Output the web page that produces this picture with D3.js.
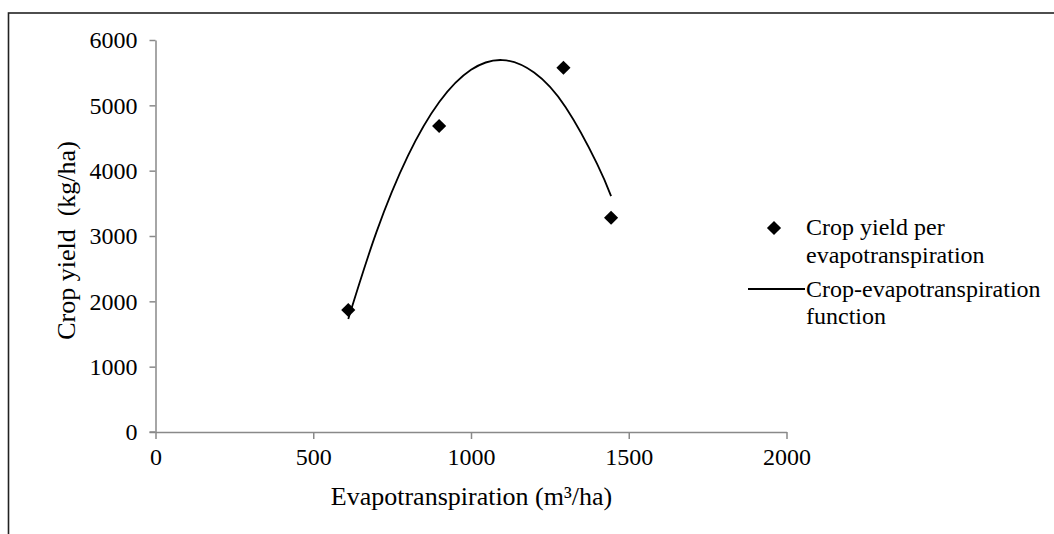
<!DOCTYPE html>
<html>
<head>
<meta charset="utf-8">
<script src="https://cdn.jsdelivr.net/npm/d3@7"></script>
<style>
  html, body { margin: 0; padding: 0; background: #fff; }
  svg { display: block; }
  text { font-family: "Liberation Serif", "Times New Roman", serif; fill: #000; white-space: pre; }
</style>
</head>
<body>
<svg id="chart" width="1054" height="534"></svg>
<script>
// ---- data ----
const pointsX = [611, 899, 1293, 1444];          // evapotranspiration (m³/ha)
const pointsY = [1867, 4684, 5576, 3280];        // crop yield (kg/ha)
// points along the drawn crop-evapotranspiration function curve
const curveX = [611, 700, 800, 900, 1000, 1100, 1200, 1300, 1400, 1444];
const curveY = [1730, 3055, 4225, 5054, 5543, 5693, 5502, 4971, 4101, 3610];
const xTicks = [0, 500, 1000, 1500, 2000];
const yTicks = [0, 1000, 2000, 3000, 4000, 5000, 6000];
const xTitle = "Evapotranspiration (m³/ha)";
const yTitle = "Crop yield  (kg/ha)";
const legendLabels = [["Crop yield per", "evapotranspiration"], ["Crop-evapotranspiration", "function"]];

const svg = d3.select("#chart");
const axisColor = "#898989";

// outer frame
svg.append("rect")
  .attr("x", 8.5).attr("y", 13)
  .attr("width", 1050).attr("height", 540)
  .attr("fill", "none").attr("stroke", "#222").attr("stroke-width", 1.6);

const x = d3.scaleLinear().domain([0, 2000]).range([155.5, 786.5]);
const y = d3.scaleLinear().domain([0, 6000]).range([432, 40]);

// x axis
const gx = svg.append("g").attr("transform", `translate(0,${y(0)})`)
  .call(d3.axisBottom(x).tickValues(xTicks).tickSize(7).tickSizeOuter(0).tickPadding(9).tickFormat(d3.format("d")));
// y axis
const gy = svg.append("g").attr("transform", `translate(${x(0)},0)`)
  .call(d3.axisLeft(y).tickValues(yTicks).tickSize(6).tickSizeOuter(0).tickPadding(12).tickFormat(d3.format("d")));

[gx, gy].forEach(g => {
  g.select(".domain").attr("stroke", axisColor).attr("stroke-width", 1.5);
  g.selectAll(".tick line").attr("stroke", axisColor).attr("stroke-width", 1.5);
  g.selectAll(".tick text").attr("font-family", "Liberation Serif").attr("font-size", 24).attr("fill", "#000");
});
// extend x axis line to the left to meet the 0 tick of y axis
svg.append("line").attr("x1", x(0) - 6).attr("x2", x(0)).attr("y1", y(0)).attr("y2", y(0))
  .attr("stroke", axisColor).attr("stroke-width", 1.5);

// axis titles
svg.append("text").attr("x", 471.5).attr("y", 505).attr("text-anchor", "middle")
  .attr("font-size", 26).text(xTitle);
svg.append("text").attr("transform", "translate(75,240.5) rotate(-90)").attr("text-anchor", "middle")
  .attr("xml:space", "preserve")
  .attr("font-size", 26).text(yTitle);

// trend curve
const curveData = curveX.map((d, i) => [d, curveY[i]]);
svg.append("path").datum(curveData)
  .attr("d", d3.line().x(d => x(d[0])).y(d => y(d[1])).curve(d3.curveNatural))
  .attr("fill", "none").attr("stroke", "#000").attr("stroke-width", 1.8);

// points (diamonds)
const diamond = d3.symbol().type(d3.symbolSquare).size(100);
const pts = pointsX.map((d, i) => [d, pointsY[i]]);
svg.append("g").selectAll("path").data(pts).join("path")
  .attr("d", diamond)
  .attr("transform", d => `translate(${x(d[0])},${y(d[1])}) rotate(45)`)
  .attr("fill", "#000");

// legend
const lg = svg.append("g");
lg.append("path").attr("d", diamond).attr("transform", "translate(774,228) rotate(45)").attr("fill", "#000");
lg.append("line").attr("x1", 748).attr("x2", 805).attr("y1", 289).attr("y2", 289)
  .attr("stroke", "#000").attr("stroke-width", 1.8);
const baselines = [[235, 263], [297, 324]];
legendLabels.forEach((lines, i) => {
  lines.forEach((t, j) => {
    lg.append("text").attr("x", 806).attr("y", baselines[i][j]).attr("font-size", 24).text(t);
  });
});
</script>
</body>
</html>
